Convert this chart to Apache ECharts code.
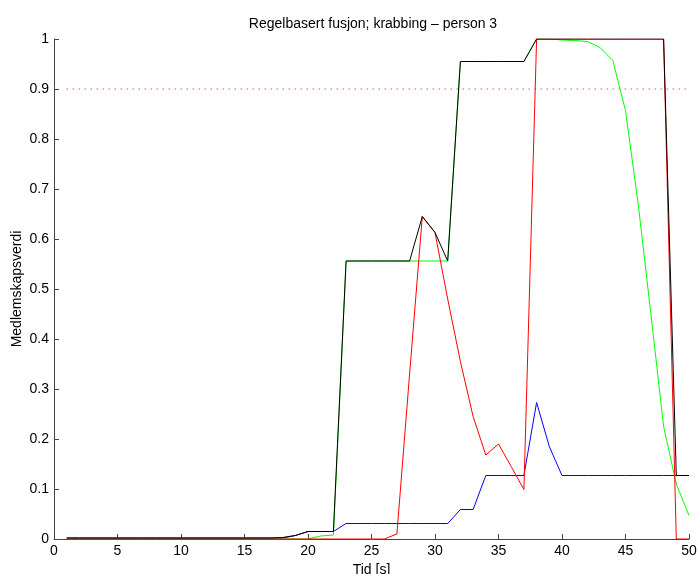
<!DOCTYPE html>
<html>
<head>
<meta charset="utf-8">
<script src="https://cdn.jsdelivr.net/npm/echarts@6/dist/echarts.min.js"></script>
<style>
  html, body { margin: 0; padding: 0; background: #fff; }
  #chart { width: 697px; height: 574px; }
</style>
</head>
<body>
<div id="chart"></div>
<script>
// Time axis (seconds)
const tid = [1,2,3,4,5,6,7,8,9,10,11,12,13,14,15,16,17,18,19,20,
             21,22,23,24,25,26,27,28,29,30,31,32,33,34,35,36,37,38,39,40,
             41,42,43,44,45,46,47,48,49,50];

// Fused membership value (max of the rules)
const fusjon = [0.002,0.002,0.002,0.002,0.002,0.002,0.002,0.002,0.002,0.002,
                0.002,0.002,0.002,0.002,0.002,0.002,0.002,0.003,0.007,0.015,
                0.015,0.015,0.556,0.556,0.556,0.556,0.556,0.556,0.645,0.613,
                0.556,0.955,0.955,0.955,0.955,0.955,0.955,1,1,1,
                1,1,1,1,1,1,1,1,0.127,0.127];

// Rule 1 (green)
const regelGronn = [0,0,0,0,0,0,0,0,0,0,
                    0,0,0,0,0,0,0,0,0,0,
                    0.006,0.008,0.556,0.556,0.556,0.556,0.556,0.556,0.556,0.556,
                    0.556,0.955,0.955,0.955,0.955,0.955,0.955,1,1,0.998,
                    0.997,0.995,0.983,0.957,0.857,0.67,0.45,0.225,0.11,0.047];

// Rule 2 (red)
const regelRod = [0,0,0,0,0,0,0,0,0,0,
                  0,0,0,0,0,0,0,0,0,0,
                  0,0,0,0,0,0,0.01,0.33,0.645,0.613,
                  0.48,0.355,0.245,0.168,0.19,0.145,0.099,1,1,1,
                  1,1,1,1,1,1,1,1,0,0];

// Rule 3 (blue)
const regelBla = [0.002,0.002,0.002,0.002,0.002,0.002,0.002,0.002,0.002,0.002,
                  0.002,0.002,0.002,0.002,0.002,0.002,0.002,0.002,0.007,0.015,
                  0.015,0.015,0.031,0.031,0.031,0.031,0.031,0.031,0.031,0.031,
                  0.031,0.059,0.059,0.127,0.127,0.127,0.127,0.273,0.185,0.127,
                  0.127,0.127,0.127,0.127,0.127,0.127,0.127,0.127,0.127,0.127];

// Decision threshold
const terskelTid = [1, 50];
const terskel = [0.9, 0.9];

const xTicks = [0, 5, 10, 15, 20, 25, 30, 35, 40, 45, 50];
const yTicks = [0, 0.1, 0.2, 0.3, 0.4, 0.5, 0.6, 0.7, 0.8, 0.9, 1];

const pairs = (xs, ys) => xs.map((x, i) => [x, ys[i]]);

const FONT = "'Liberation Sans', Arial, Helvetica, sans-serif";
const AXIS_COLOR = '#444';

function lineSeries(name, xs, ys, color, z, dash) {
  return {
    name: name,
    type: 'line',
    data: pairs(xs, ys),
    showSymbol: false,
    symbol: 'none',
    z: z,
    lineStyle: { color: color, width: 1, type: dash || 'solid' },
    emphasis: { disabled: true },
    animation: false
  };
}

const chart = echarts.init(document.getElementById('chart'), null, { renderer: 'canvas' });

chart.setOption({
  backgroundColor: '#fff',
  animation: false,
  title: {
    text: 'Regelbasert fusjon; krabbing \u2013 person 3',
    left: 368,
    textAlign: 'center',
    top: 12,
    textStyle: { fontFamily: FONT, fontSize: 14, fontWeight: 'normal', color: '#000' }
  },
  grid: { left: 54, right: 8, top: 39, bottom: 35, containLabel: false, outerBoundsMode: 'none' },
  xAxis: {
    type: 'value',
    min: xTicks[0],
    max: xTicks[xTicks.length - 1],
    interval: 5,
    name: 'Tid [s]',
    nameLocation: 'middle',
    nameGap: 19,
    nameTextStyle: { fontFamily: FONT, fontSize: 14, color: '#000' },
    axisLine: { show: true, onZero: false, lineStyle: { color: AXIS_COLOR, width: 1 } },
    axisTick: { show: true, inside: true, length: 5, lineStyle: { color: AXIS_COLOR } },
    axisLabel: { margin: 5, fontFamily: FONT, fontSize: 14, color: '#000' },
    splitLine: { show: false }
  },
  yAxis: {
    type: 'value',
    min: yTicks[0],
    max: yTicks[yTicks.length - 1],
    interval: 0.1,
    name: 'Medlemskapsverdi',
    nameLocation: 'middle',
    nameGap: 30,
    nameMoveOverlap: false,
    nameTextStyle: { fontFamily: FONT, fontSize: 14, color: '#000' },
    axisLine: { show: true, onZero: false, lineStyle: { color: AXIS_COLOR, width: 1 } },
    axisTick: { show: true, inside: true, length: 5, lineStyle: { color: AXIS_COLOR } },
    axisLabel: {
      margin: 5, fontFamily: FONT, fontSize: 14, color: '#000',
      formatter: v => String(Math.round(v * 10) / 10)
    },
    splitLine: { show: false }
  },
  series: [
    lineSeries('terskel', terskelTid, terskel, '#ff0000', 1, [1, 5]),
    lineSeries('blå', tid, regelBla, '#0000ff', 2),
    lineSeries('grønn', tid, regelGronn, '#00ff00', 3),
    lineSeries('rød', tid, regelRod, '#ff0000', 4),
    lineSeries('fusjon', tid, fusjon, '#000000', 5)
  ]
});
</script>
</body>
</html>
